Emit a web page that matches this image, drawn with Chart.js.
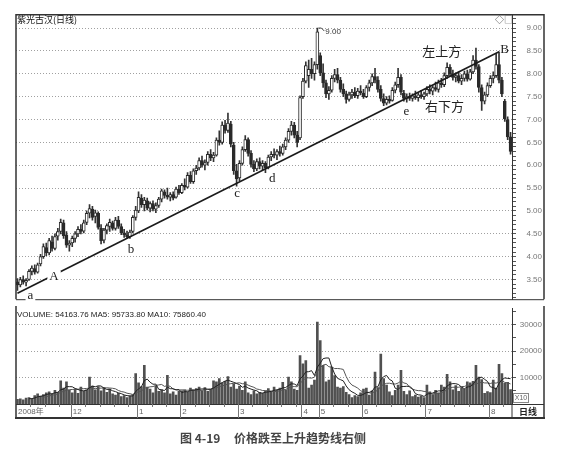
<!DOCTYPE html>
<html lang="zh-CN">
<head>
<meta charset="UTF-8">
<title>紫光古汉(日线)</title>
<script src="https://cdn.jsdelivr.net/npm/chart.js@4.4.1/dist/chart.umd.min.js"></script>
<style>
    body { margin: 0; background: #fff; }
    .wrap { position: relative; width: 574px; height: 452px; overflow: hidden; }
    #priceChart { position: absolute; left: 0; top: 0; }
    #volChart { position: absolute; left: 0; top: 300px; }
    .caption {
        position: absolute; left: 180px; top: 429px;
        font: bold 12px "Noto Sans CJK SC", sans-serif; color: #444;
        white-space: pre;
    }
</style>
</head>
<body>
<div class="wrap">
    <canvas id="priceChart" width="574" height="314"></canvas>
    <canvas id="volChart" width="574" height="126"></canvas>
    <div class="caption">图 4-19     价格跌至上升趋势线右侧</div>
</div>
<script>
// 月份刻度 (date strip)
const monthLabels = ['2008年', '12', '1', '2', '3', '4', '5', '6', '7', '8'];
const monthStarts = [0, 19, 42, 57, 77, 99, 105, 120, 142, 164];

// 日K线 OHLC
const openP = [
    3.45,3.38,3.50,3.44,3.50,3.68,3.74,3.66,3.84,4.00,
    4.20,4.08,4.32,4.18,4.45,4.55,4.74,4.48,4.25,4.30,
    4.40,4.50,4.60,4.56,4.75,4.95,5.04,4.88,4.95,4.62,
    4.36,4.58,4.66,4.74,4.62,4.80,4.66,4.52,4.48,4.44,
    4.55,4.86,5.00,5.28,5.14,5.22,5.06,5.16,5.04,5.12,
    5.26,5.42,5.34,5.30,5.36,5.30,5.48,5.40,5.56,5.52,
    5.78,5.64,5.88,5.94,6.10,6.00,6.06,6.24,6.16,6.22,
    6.55,6.50,6.88,6.76,6.90,6.44,5.88,5.72,6.04,6.34,
    6.56,6.26,6.02,5.92,6.08,5.98,6.04,5.96,6.18,6.24,
    6.22,6.30,6.26,6.40,6.55,6.74,6.88,6.66,6.60,7.50,
    7.84,7.96,8.10,8.00,8.20,8.40,8.02,7.80,7.56,7.64,
    7.90,7.98,7.86,7.66,7.56,7.44,7.54,7.60,7.52,7.62,
    7.58,7.50,7.70,7.80,7.94,7.86,7.66,7.46,7.36,7.44,
    7.42,7.64,7.76,7.92,7.58,7.46,7.50,7.46,7.52,7.48,
    7.54,7.50,7.56,7.66,7.62,7.70,7.66,7.80,7.76,7.96,
    8.14,8.00,7.92,7.96,7.84,7.90,8.00,7.88,8.04,8.30,
    8.16,7.70,7.40,7.54,7.74,7.90,7.96,8.20,7.86,7.40,
    7.00,6.62
];
const highP = [
    3.52,3.55,3.58,3.52,3.72,3.80,3.82,3.86,4.05,4.28,
    4.30,4.40,4.45,4.50,4.62,4.82,4.80,4.55,4.35,4.45,
    4.55,4.66,4.70,4.80,5.00,5.14,5.10,5.02,4.98,4.70,
    4.62,4.72,4.82,4.78,4.86,4.88,4.72,4.60,4.56,4.58,
    4.90,5.10,5.42,5.36,5.30,5.28,5.20,5.22,5.18,5.30,
    5.48,5.46,5.50,5.40,5.42,5.52,5.56,5.60,5.70,5.84,
    5.86,5.92,6.00,6.16,6.20,6.12,6.30,6.34,6.28,6.60,
    6.75,6.95,6.98,7.14,6.96,6.50,6.02,6.10,6.40,6.65,
    6.60,6.32,6.10,6.14,6.16,6.10,6.08,6.22,6.30,6.36,
    6.34,6.42,6.46,6.60,6.80,6.96,6.94,6.74,7.52,7.90,
    8.26,8.30,8.34,8.26,9.00,8.46,8.22,7.86,7.72,7.96,
    8.10,8.12,7.92,7.78,7.62,7.60,7.66,7.70,7.68,7.74,
    7.66,7.74,7.86,8.00,8.12,7.94,7.74,7.56,7.50,7.52,
    7.70,7.82,8.12,7.98,7.64,7.56,7.58,7.56,7.62,7.58,
    7.64,7.60,7.72,7.76,7.74,7.82,7.86,7.90,8.02,8.24,
    8.20,8.08,8.02,8.04,7.98,8.06,8.08,8.10,8.40,8.56,
    8.20,7.76,7.60,7.80,7.96,8.04,8.44,8.48,7.92,7.44,
    7.06,6.72
];
const lowP = [
    3.26,3.34,3.40,3.36,3.48,3.60,3.62,3.64,3.80,3.96,
    4.02,4.04,4.12,4.15,4.36,4.50,4.40,4.20,4.12,4.22,
    4.32,4.44,4.50,4.52,4.70,4.85,4.80,4.74,4.60,4.28,
    4.30,4.50,4.55,4.58,4.58,4.62,4.48,4.42,4.40,4.40,
    4.52,4.80,4.96,5.08,5.00,5.02,4.98,5.00,4.96,5.08,
    5.20,5.28,5.26,5.22,5.24,5.28,5.36,5.38,5.46,5.50,
    5.60,5.60,5.80,5.90,5.96,5.90,6.00,6.10,6.08,6.20,
    6.44,6.46,6.70,6.72,6.40,5.80,5.54,5.66,6.00,6.30,
    6.20,5.96,5.86,5.88,5.92,5.90,5.84,5.92,6.10,6.16,
    6.12,6.20,6.22,6.34,6.50,6.66,6.60,6.40,6.56,7.46,
    7.80,7.70,7.90,7.86,8.10,7.96,7.70,7.48,7.44,7.60,
    7.82,7.80,7.60,7.50,7.36,7.40,7.46,7.48,7.46,7.54,
    7.46,7.48,7.62,7.74,7.80,7.60,7.40,7.30,7.32,7.36,
    7.40,7.58,7.70,7.54,7.40,7.38,7.42,7.40,7.44,7.40,
    7.46,7.44,7.52,7.56,7.54,7.62,7.60,7.70,7.72,7.90,
    7.94,7.86,7.82,7.80,7.76,7.84,7.84,7.86,8.00,8.10,
    7.60,7.20,7.34,7.50,7.70,7.80,7.92,7.80,7.50,6.96,
    6.56,6.24
];
const closeP = [
    3.38,3.50,3.44,3.48,3.68,3.75,3.66,3.82,4.00,4.22,
    4.08,4.35,4.18,4.44,4.55,4.75,4.46,4.25,4.30,4.40,
    4.50,4.60,4.55,4.74,4.95,5.05,4.86,4.96,4.64,4.35,
    4.58,4.68,4.75,4.62,4.80,4.66,4.52,4.48,4.44,4.54,
    4.86,5.02,5.30,5.14,5.24,5.06,5.16,5.04,5.12,5.26,
    5.44,5.34,5.30,5.36,5.28,5.48,5.40,5.56,5.52,5.78,
    5.64,5.88,5.94,6.10,6.00,6.06,6.24,6.16,6.22,6.55,
    6.50,6.88,6.76,6.92,6.46,5.88,5.70,6.04,6.34,6.56,
    6.26,6.02,5.92,6.08,5.98,6.04,5.94,6.18,6.24,6.22,
    6.30,6.26,6.40,6.55,6.74,6.88,6.66,6.50,7.48,7.84,
    8.18,8.10,8.00,8.20,8.92,8.02,7.80,7.56,7.64,7.90,
    7.98,7.86,7.66,7.56,7.44,7.54,7.60,7.52,7.62,7.58,
    7.50,7.70,7.80,7.94,7.86,7.66,7.46,7.36,7.44,7.40,
    7.64,7.76,7.92,7.60,7.46,7.50,7.46,7.52,7.48,7.54,
    7.50,7.56,7.66,7.62,7.70,7.66,7.80,7.76,7.96,8.14,
    8.00,7.92,7.96,7.84,7.90,8.00,7.88,8.04,8.30,8.16,
    7.70,7.40,7.54,7.74,7.90,7.96,8.20,7.86,7.56,7.02,
    6.62,6.30
];

// 成交量 (X10)
const volume = [
    1800,2000,1600,2200,2400,2000,3200,3800,3000,3600,
    4200,4600,3800,5200,4400,8800,6000,8400,5200,4200,
    5600,4000,6400,4800,5400,10200,6800,5400,6600,5000,
    6200,4400,5600,3800,3400,4000,2800,3200,2400,3000,
    3600,11500,8000,6600,14600,6400,5600,4200,6800,4800,
    5400,4200,10800,3800,4600,3400,4800,5000,5400,4600,
    6000,5200,5800,6400,5000,6200,4800,5600,8800,8400,
    9600,8000,8600,10400,6400,7600,5600,6800,5200,8400,
    4200,3600,5000,3800,4400,4000,5000,5800,4600,6400,
    5200,6000,8200,5400,10200,8400,5600,5200,18300,15200,
    16400,6000,7200,9000,31000,24000,14600,8400,9000,14000,
    10700,6400,6000,6600,4400,3600,2400,3200,2800,4200,
    5600,6000,3400,5000,12100,6200,18900,9600,7200,4600,
    3200,5200,7200,12700,4800,3600,5000,2800,3400,2600,
    3000,2400,7200,4600,3600,5200,4200,7200,6400,11200,
    8400,5400,7000,4800,6200,5600,8400,8000,8600,14600,
    10200,9200,4000,4700,4300,9000,5990,15000,11500,7800,
    8150,5416
];

// 坐标轴标签与刻度
const priceTickLabels = [3.5, 4.0, 4.5, 5.0, 5.5, 6.0, 6.5, 7.0, 7.5, 8.0, 8.5, 9.0];
const volTickLabels = [10000, 20000, 30000];
const volTickMarks = [5000, 10000, 15000, 20000, 25000, 30000, 35000];

// 上升趋势线 a -> B
const trendFrom = [0, 3.20];
const trendTo = [167, 8.48];
const peakIndex = 104;

const volHeader = 'VOLUME: 54163.76 MA5: 95733.80 MA10: 75860.40';

// 图上文字标注 (index, price)
const notes = [
    { text: 'a', i: 4.5, v: 3.14, font: '13px "Liberation Serif"', bg: true },
    { text: 'A', i: 12.7, v: 3.56, font: '13px "Liberation Serif"', bg: true },
    { text: 'b', i: 39.4, v: 4.16, font: '13px "Liberation Serif"' },
    { text: 'c', i: 76.2, v: 5.37, font: '13px "Liberation Serif"' },
    { text: 'd', i: 88.4, v: 5.71, font: '13px "Liberation Serif"' },
    { text: 'e', i: 134.9, v: 7.18, font: '13px "Liberation Serif"' },
    { text: 'B', i: 168.9, v: 8.52, font: '13px "Liberation Serif"' },
    { text: '左上方', i: 147.1, v: 8.50, font: '13px "Noto Sans CJK SC"' },
    { text: '右下方', i: 148.1, v: 7.29, font: '13px "Noto Sans CJK SC"' }
];

const idx = closeP.map((_, i) => i);
const isUp = idx.map(i => closeP[i] >= openP[i]);
const near = (a, list) => list.some(t => Math.abs(t - a) < 1e-6);

function movingAvg(arr, n) {
    return arr.map((_, i) => {
        if (i < n - 1) return null;
        let s = 0;
        for (let k = i - n + 1; k <= i; k++) s += arr[k];
        return s / n;
    });
}
const ma5 = movingAvg(volume, 5);
const ma10 = movingAvg(volume, 10);

const axisFont = { family: 'Liberation Sans', size: 8 };

// 价格图: 边框 + 标注
const priceFrame = {
    id: 'priceFrame',
    beforeDatasetsDraw(chart) {
        const ctx = chart.ctx, a = chart.chartArea;
        ctx.save();
        ctx.strokeStyle = '#333';
        ctx.lineWidth = 1.5;
        ctx.beginPath();
        ctx.moveTo(a.left, a.bottom); ctx.lineTo(a.left, a.top);
        ctx.lineTo(544, a.top); ctx.lineTo(544, a.bottom);
        ctx.stroke();
        ctx.lineWidth = 1;
        ctx.beginPath();
        ctx.moveTo(a.left, a.bottom + 0.5); ctx.lineTo(544, a.bottom + 0.5);
        ctx.stroke();
        ctx.restore();
    },
    afterDatasetsDraw(chart) {
        const ctx = chart.ctx, xs = chart.scales.x, ys = chart.scales.y;
        ctx.save();
        ctx.textAlign = 'center';
        ctx.textBaseline = 'middle';
        notes.forEach(n => {
            const x = xs.getPixelForValue(n.i), y = ys.getPixelForValue(n.v);
            ctx.font = n.font;
            if (n.bg) {
                const w = ctx.measureText(n.text).width + 4;
                ctx.fillStyle = '#fff';
                ctx.fillRect(x - w / 2, y - 6, w, 12);
            }
            ctx.fillStyle = '#222';
            ctx.fillText(n.text, x, y);
        });
        // 9.00 高点
        const px = xs.getPixelForValue(peakIndex), py = ys.getPixelForValue(highP[peakIndex]);
        ctx.strokeStyle = '#444';
        ctx.lineWidth = 1;
        ctx.beginPath();
        ctx.moveTo(px + 1, py); ctx.lineTo(px + 4, py); ctx.lineTo(px + 7, py + 3);
        ctx.stroke();
        ctx.textAlign = 'left';
        ctx.font = '8px "Liberation Sans"';
        ctx.fillStyle = '#333';
        ctx.fillText(highP[peakIndex].toFixed(2), px + 8, py + 4);
        // 标题
        ctx.font = '9px "Noto Sans CJK SC"';
        ctx.fillStyle = '#111';
        ctx.fillText('紫光古汉(日线)', 17, 20);
        ctx.fillStyle = '#555';
        ctx.fillText('◇□', 495, 20);
        ctx.restore();
    }
};

new Chart(document.getElementById('priceChart'), {
    type: 'bar',
    data: {
        datasets: [
            {
                type: 'line',
                data: [{ x: trendFrom[0], y: trendFrom[1] }, { x: trendTo[0], y: trendTo[1] }],
                borderColor: '#1a1a1a',
                borderWidth: 1.6,
                pointRadius: 0,
                order: 0
            },
            {
                data: idx.map(i => ({ x: i, y: [lowP[i], highP[i]] })),
                backgroundColor: '#333',
                barThickness: 1,
                grouped: false,
                order: 2
            },
            {
                data: idx.map(i => ({ x: i, y: [openP[i], closeP[i]] })),
                backgroundColor: isUp.map(u => u ? '#fff' : '#2a2a2a'),
                borderColor: '#2a2a2a',
                borderWidth: 1,
                borderSkipped: false,
                barThickness: 3,
                grouped: false,
                order: 1
            }
        ]
    },
    options: {
        responsive: false,
        animation: false,
        layout: { padding: { left: 16, right: 32, top: 14, bottom: 8 } },
        plugins: { legend: { display: false }, tooltip: { enabled: false } },
        scales: {
            x: { type: 'linear', min: -0.5, max: 171.5, offset: false, display: false },
            y: {
                position: 'right',
                min: 3.07,
                max: 9.29,
                afterFit(s) { s.width = 30; },
                ticks: {
                    stepSize: 0.1,
                    maxTicksLimit: 100,
                    autoSkip: false,
                    includeBounds: false,
                    crossAlign: 'far',
                    padding: 10,
                    font: axisFont,
                    color: '#777',
                    callback: v => near(v, priceTickLabels) ? v.toFixed(2) : ''
                },
                grid: {
                    color: c => near(c.tick.value, priceTickLabels) ? '#a0a0a0' : 'rgba(0,0,0,0)',
                    tickColor: '#555',
                    tickLength: 4,
                    lineWidth: 1
                },
                border: { display: true, color: '#333', width: 1, dash: [1, 2] }
            }
        }
    },
    plugins: [priceFrame]
});

// 成交量图: 边框 + 日期条
const volFrame = {
    id: 'volFrame',
    beforeDatasetsDraw(chart) {
        const ctx = chart.ctx, a = chart.chartArea, xs = chart.scales.x;
        const stripTop = a.bottom, stripBottom = a.bottom + 14;
        ctx.save();
        ctx.strokeStyle = '#333';
        ctx.lineWidth = 1.5;
        ctx.beginPath();
        ctx.moveTo(a.left, 6); ctx.lineTo(a.left, stripBottom);
        ctx.moveTo(544, 6); ctx.lineTo(544, stripBottom);
        ctx.stroke();
        ctx.lineWidth = 2;
        ctx.beginPath();
        ctx.moveTo(a.left - 1, stripBottom); ctx.lineTo(545, stripBottom);
        ctx.stroke();
        ctx.lineWidth = 1;
        ctx.beginPath();
        ctx.moveTo(a.left, stripTop + 0.5); ctx.lineTo(544, stripTop + 0.5);
        ctx.moveTo(a.right, stripTop); ctx.lineTo(a.right, stripBottom);
        ctx.stroke();
        // 月份分隔与周刻度
        ctx.strokeStyle = '#777';
        ctx.beginPath();
        monthStarts.forEach((m, k) => {
            const x = Math.round(xs.getPixelForValue(m - 0.5)) + 0.5;
            if (k > 0) { ctx.moveTo(x, stripTop); ctx.lineTo(x, stripBottom); }
            const end = k + 1 < monthStarts.length ? monthStarts[k + 1] : closeP.length;
            for (let w = m + 5; w < end - 1; w += 5) {
                const wx = Math.round(xs.getPixelForValue(w - 0.5)) + 0.5;
                ctx.moveTo(wx, stripTop); ctx.lineTo(wx, stripTop + 3);
            }
        });
        ctx.stroke();
        ctx.font = '8px "Liberation Sans", "Noto Sans CJK SC"';
        ctx.fillStyle = '#666';
        ctx.textBaseline = 'middle';
        ctx.textAlign = 'left';
        monthStarts.forEach((m, k) => {
            const x = xs.getPixelForValue(m - 0.5);
            ctx.fillText(monthLabels[k], x + 2, stripTop + 7.5);
        });
        ctx.font = 'bold 9px "Noto Sans CJK SC"';
        ctx.fillStyle = '#222';
        ctx.textAlign = 'center';
        ctx.fillText('日线', 528, stripTop + 7.5);
        // X10
        ctx.strokeStyle = '#888';
        ctx.strokeRect(513.5, a.bottom - 10.5, 15, 9);
        ctx.font = '7px "Liberation Sans"';
        ctx.fillStyle = '#666';
        ctx.fillText('X10', 521, a.bottom - 6);
        // 成交量标题
        ctx.font = '8px "Liberation Sans"';
        ctx.fillStyle = '#222';
        ctx.textAlign = 'left';
        ctx.fillText(volHeader, 17, a.top + 6);
        ctx.restore();
    }
};

new Chart(document.getElementById('volChart'), {
    type: 'bar',
    data: {
        datasets: [
            {
                type: 'line',
                data: idx.map(i => ({ x: i, y: ma5[i] })),
                borderColor: '#222',
                borderWidth: 1,
                pointRadius: 0,
                order: 0
            },
            {
                type: 'line',
                data: idx.map(i => ({ x: i, y: ma10[i] })),
                borderColor: '#555',
                borderWidth: 1,
                pointRadius: 0,
                order: 0
            },
            {
                data: idx.map(i => ({ x: i, y: volume[i] })),
                backgroundColor: '#505050',
                barThickness: 2,
                order: 1
            }
        ]
    },
    options: {
        responsive: false,
        animation: false,
        layout: { padding: { left: 16, right: 32, top: 8, bottom: 22 } },
        plugins: { legend: { display: false }, tooltip: { enabled: false } },
        scales: {
            x: { type: 'linear', min: -0.5, max: 171.5, offset: false, display: false },
            y: {
                position: 'right',
                min: 0,
                max: 36000,
                afterFit(s) { s.width = 30; },
                afterBuildTicks(s) { s.ticks = volTickMarks.map(v => ({ value: v })); },
                ticks: {
                    autoSkip: false,
                    crossAlign: 'far',
                    padding: 4,
                    font: axisFont,
                    color: '#777',
                    callback: v => near(v, volTickLabels) ? String(v) : ''
                },
                grid: {
                    color: c => near(c.tick.value, volTickLabels) ? '#a0a0a0' : 'rgba(0,0,0,0)',
                    tickColor: '#555',
                    tickLength: 4,
                    lineWidth: 1
                },
                border: { display: true, color: '#333', width: 1, dash: [1, 2] }
            }
        }
    },
    plugins: [volFrame]
});
</script>
</body>
</html>
